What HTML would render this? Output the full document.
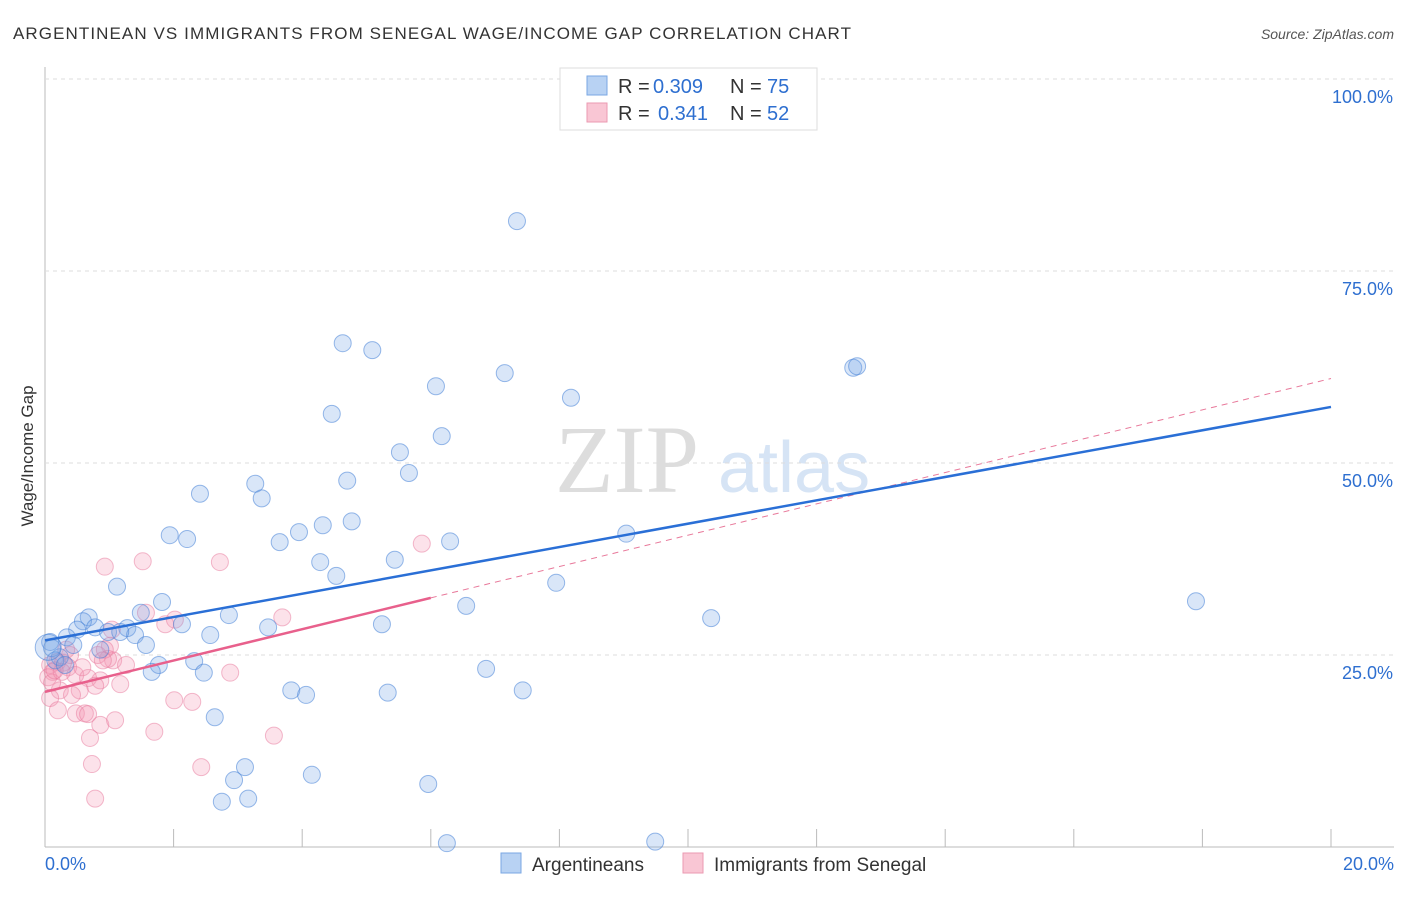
<!DOCTYPE html>
<html><head><meta charset="utf-8"><style>
body{margin:0;background:#fff;font-family:"Liberation Sans",sans-serif}
svg text{font-family:"Liberation Sans",sans-serif}
</style></head><body>
<svg id="c" width="1406" height="892" xmlns="http://www.w3.org/2000/svg">
<text x="13" y="39" font-size="17" fill="#333" textLength="838" lengthAdjust="spacing">ARGENTINEAN VS IMMIGRANTS FROM SENEGAL WAGE/INCOME GAP CORRELATION CHART</text>
<text x="1394" y="39" font-size="14" fill="#555" font-style="italic" text-anchor="end">Source: ZipAtlas.com</text>
<text x="33" y="456" font-size="17" fill="#333" text-anchor="middle" transform="rotate(-90 33 456)">Wage/Income Gap</text>
<text x="555" y="492" font-size="96" fill="#ddd" style="font-family:'Liberation Serif',serif">ZIP</text>
<text x="718" y="492" font-size="72" fill="#d6e4f5">atlas</text>
<g id="grid"></g><g id="marks"></g><g id="lines"></g>
<g>
<rect x="560" y="68" width="257" height="62" fill="#fff" stroke="#ddd"/>
<rect x="587" y="76" width="20" height="19" fill="#b8d2f3" stroke="#7aa7e3"/>
<text x="618" y="93" font-size="20" fill="#333">R =</text>
<text x="653" y="93" font-size="20" fill="#2e6fd0">0.309</text>
<text x="730" y="93" font-size="20" fill="#333">N =</text>
<text x="767" y="93" font-size="20" fill="#2e6fd0">75</text>
<rect x="587" y="103" width="20" height="19" fill="#f9c6d4" stroke="#eb9ab2"/>
<text x="618" y="120" font-size="20" fill="#333">R =</text>
<text x="658" y="120" font-size="20" fill="#2e6fd0">0.341</text>
<text x="730" y="120" font-size="20" fill="#333">N =</text>
<text x="767" y="120" font-size="20" fill="#2e6fd0">52</text>
</g>
<g>
<rect x="501" y="853" width="20" height="20" fill="#b8d2f3" stroke="#7aa7e3"/>
<text x="532" y="871" font-size="19" fill="#333">Argentineans</text>
<rect x="683" y="853" width="20" height="20" fill="#f9c6d4" stroke="#eb9ab2"/>
<text x="714" y="871" font-size="19" fill="#333">Immigrants from Senegal</text>
</g>
</svg>
<script>
const xTicks=[0,2,4,6,8,10,12,14,16,18,20];
const yTicks=[25,50,75,100];
const blueX=[7.34,4.63,5.09,7.15,6.08,8.18,4.46,6.17,5.52,5.66,4.70,3.27,2.41,3.37,4.77,4.32,3.95,3.65,2.21,1.94,6.30,9.04,4.28,5.44,4.53,7.95,1.12,1.82,6.55,1.49,2.86,0.68,0.59,2.13,5.24,3.47,0.50,0.34,0.78,1.28,1.40,0.98,2.57,1.57,0.44,0.08,0.86,0.23,2.32,1.77,1.66,2.47,6.86,3.83,4.06,5.33,7.43,2.64,3.11,4.15,2.94,5.96,2.75,3.16,6.25,9.49,10.36,12.57,12.63,17.90,0.11,0.16,0.31,1.17,0.05];
const blueY=[81.5,65.6,64.7,61.7,60.0,58.5,56.4,53.5,51.4,48.7,47.7,47.3,46.0,45.4,42.4,41.9,41.0,39.7,40.1,40.6,39.8,40.8,37.1,37.4,35.3,34.4,33.9,31.9,31.4,30.5,30.2,29.9,29.4,29.0,29.0,28.6,28.3,27.3,28.6,28.5,27.6,28.0,27.6,26.3,26.3,26.7,25.7,24.7,24.2,23.7,22.8,22.7,23.2,20.4,19.8,20.1,20.4,16.9,10.4,9.4,8.7,8.2,5.9,6.3,0.5,0.7,29.8,62.4,62.6,32.0,25.9,24.3,23.7,28.0,26.0];
const pinkX=[0.93,1.52,2.72,5.86,1.57,2.02,1.87,3.69,1.04,1.01,0.82,1.06,0.36,0.19,0.08,0.12,0.05,0.47,0.67,0.86,1.17,2.88,1.26,0.23,0.78,0.54,0.08,0.20,0.48,0.62,0.67,0.86,1.09,2.01,2.29,1.70,3.56,0.70,0.73,2.43,0.78,0.39,0.28,0.98,0.58,0.93,0.33,0.11,0.42,0.90,0.26,0.15];
const pinkY=[36.5,37.2,37.1,39.5,30.5,29.6,29.0,29.9,28.3,26.2,25.0,24.3,23.4,24.1,23.7,22.8,22.1,22.4,22.0,21.7,21.2,22.7,23.7,20.4,21.0,20.4,19.4,17.8,17.4,17.4,17.3,15.9,16.5,19.1,18.9,15.0,14.5,14.2,10.8,10.4,6.3,25.0,24.0,24.5,23.4,25.7,25.7,21.4,19.8,24.3,22.8,23.0];
const blueTrend=[26.9,57.3];
const pinkTrend=[20.2,61.0];
const pinkSolidEnd=6;
const X=v=>45+v/20*1286, Y=v=>847-v/100*768;
const NS='http://www.w3.org/2000/svg';
function mk(t,a,p){const e=document.createElementNS(NS,t);for(const k in a)e.setAttribute(k,a[k]);p.appendChild(e);return e;}
const g=document.getElementById('grid'),m=document.getElementById('marks'),l=document.getElementById('lines');
let ax=mk('line',{x1:45,y1:67,x2:45,y2:847,stroke:'#bbb'},g);


let bx=mk('line',{x1:45,y1:847,x2:1394,y2:847,stroke:'#bbb'},g);


yTicks.forEach(v=>{
 let gl=mk('line',{x1:45,y1:Y(v),x2:1394,y2:Y(v),stroke:'#ddd','stroke-dasharray':'4 4'},g);
 
 
 let t=mk('text',{x:1393,y:Y(v)+24,'font-size':18,fill:'#2e6fd0','text-anchor':'end'},g);t.textContent=v.toFixed(1)+'%';
 
 
});
xTicks.forEach(v=>{
 let tk=mk('line',{x1:X(v),y1:829,x2:X(v),y2:847,stroke:'#bbb'},g);
 
 
});
[[0,'start',45],[20,'end',1394]].forEach(([v,a,x])=>{
 let t=mk('text',{x:x,y:870,'font-size':18,fill:'#2e6fd0','text-anchor':a},g);t.textContent=v.toFixed(1)+'%';
 
 
});
pinkX.forEach((v,i)=>{
 let c=mk('circle',{cx:X(v),cy:Y(pinkY[i]),r:8.5,fill:'rgba(244,150,178,0.28)',stroke:'rgba(232,120,155,0.5)'},m);
 
 
});
blueX.forEach((v,i)=>{
 let c=mk('circle',{cx:X(v),cy:Y(blueY[i]),r:i==blueX.length-1?13:8.5,fill:'rgba(120,165,230,0.28)',stroke:'rgba(70,130,215,0.55)'},m);
 
 
});
const py=x=>pinkTrend[0]+(pinkTrend[1]-pinkTrend[0])*x/20;
let pd=mk('line',{x1:X(pinkSolidEnd),y1:Y(py(pinkSolidEnd)),x2:X(20),y2:Y(pinkTrend[1]),stroke:'#e8789a','stroke-width':1,'stroke-dasharray':'6 5'},l);


let ps=mk('line',{x1:X(0),y1:Y(pinkTrend[0]),x2:X(pinkSolidEnd),y2:Y(py(pinkSolidEnd)),stroke:'#e8608c','stroke-width':2.5},l);


let bl=mk('line',{x1:X(0),y1:Y(blueTrend[0]),x2:X(20),y2:Y(blueTrend[1]),stroke:'#2a6fd6','stroke-width':2.5},l);


</script>
</body></html>
